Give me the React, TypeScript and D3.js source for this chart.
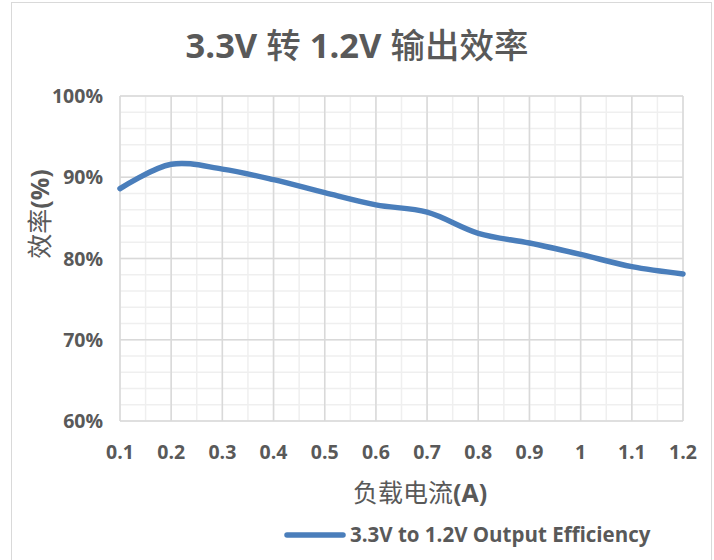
import { useEffect, useRef } from 'react';
import * as d3 from 'd3';

// load current (A) and measured efficiency (%)
const loads = [0.1, 0.2, 0.3, 0.4, 0.5, 0.6, 0.7, 0.8, 0.9, 1.0, 1.1, 1.2];
const efficiency = [88.6, 91.6, 91.0, 89.7, 88.1, 86.6, 85.7, 83.1, 81.9, 80.5, 79.0, 78.1];
const xTickLabels = ['0.1', '0.2', '0.3', '0.4', '0.5', '0.6', '0.7', '0.8', '0.9', '1', '1.1', '1.2'];
const yTicks = [60, 70, 80, 90, 100];
const yTickLabels = ['60%', '70%', '80%', '90%', '100%'];
const seriesName = '3.3V to 1.2V Output Efficiency';

const latin = '"Open Sans", "Noto Sans", sans-serif';
const cjk = '"Noto Sans CJK SC", "Open Sans", sans-serif';
const textColor = '#595959';
const lineColor = '#4a7ebb';

const App = () => {
  const svgRef = useRef<SVGSVGElement | null>(null);

  useEffect(() => {
    const svg = d3.select(svgRef.current);
    svg.selectAll('*').remove();
    const width = 714;
    const height = 560;

    const plot = { left: 120, right: 683, top: 96, bottom: 421 };

    const x = d3.scaleLinear().domain([0.1, 1.2]).range([plot.left, plot.right]);
    const y = d3.scaleLinear().domain([60, 100]).range([plot.bottom, plot.top]);

    svg.attr('width', width).attr('height', height);

    // chart frame
    svg.append('rect')
      .attr('x', 11.5).attr('y', 2.5)
      .attr('width', 700).attr('height', 570)
      .attr('fill', '#fff')
      .attr('stroke', '#d9d9d9');

    // minor grid
    const minorX = d3.range(0, 23).map(i => 0.1 + i * 0.05);
    const minorY = d3.range(60, 101, 2);
    const grid = svg.append('g');
    grid.selectAll('.minor-x').data(minorX).enter().append('line')
      .attr('x1', d => x(d)).attr('x2', d => x(d))
      .attr('y1', plot.top).attr('y2', plot.bottom)
      .attr('stroke', '#efefef').attr('stroke-width', 1.5);
    grid.selectAll('.minor-y').data(minorY).enter().append('line')
      .attr('x1', plot.left).attr('x2', plot.right)
      .attr('y1', d => y(d)).attr('y2', d => y(d))
      .attr('stroke', '#efefef').attr('stroke-width', 1.5);

    // major grid
    grid.selectAll('.major-x').data(loads).enter().append('line')
      .attr('x1', d => x(d)).attr('x2', d => x(d))
      .attr('y1', plot.top).attr('y2', plot.bottom)
      .attr('stroke', '#d9d9d9').attr('stroke-width', 1.5);
    grid.selectAll('.major-y').data(yTicks).enter().append('line')
      .attr('x1', plot.left).attr('x2', plot.right)
      .attr('y1', d => y(d)).attr('y2', d => y(d))
      .attr('stroke', '#d9d9d9').attr('stroke-width', 1.5);

    // tick labels
    svg.append('g').selectAll('text').data(yTicks).enter().append('text')
      .attr('x', plot.left - 17)
      .attr('y', d => y(d))
      .attr('dy', '0.36em')
      .attr('text-anchor', 'end')
      .attr('font-family', latin).attr('font-weight', 700).attr('font-size', 19.5)
      .attr('fill', textColor)
      .text((_, i) => yTickLabels[i]);

    svg.append('g').selectAll('text').data(loads).enter().append('text')
      .attr('x', d => x(d))
      .attr('y', plot.bottom + 31)
      .attr('dy', '0.36em')
      .attr('text-anchor', 'middle')
      .attr('font-family', latin).attr('font-weight', 700).attr('font-size', 19.5)
      .attr('fill', textColor)
      .text((_, i) => xTickLabels[i]);

    // line
    const line = d3.line<number>()
      .x((_, i) => x(loads[i]))
      .y(d => y(d))
      .curve(d3.curveCatmullRom.alpha(0.5));

    svg.append('path')
      .datum(efficiency)
      .attr('d', line)
      .attr('fill', 'none')
      .attr('stroke', lineColor)
      .attr('stroke-width', 5.5)
      .attr('stroke-linecap', 'round');

    // title
    const title = svg.append('text')
      .attr('x', 357).attr('y', 58)
      .attr('text-anchor', 'middle')
      .attr('font-size', 34.5)
      .attr('fill', textColor);
    title.append('tspan').attr('font-family', latin).attr('font-weight', 700).text('3.3V ');
    title.append('tspan').attr('font-family', cjk).attr('font-weight', 500).text('转');
    title.append('tspan').attr('font-family', latin).attr('font-weight', 700).text(' 1.2V ');
    title.append('tspan').attr('font-family', cjk).attr('font-weight', 500).text('输出效率');

    // x axis title
    const xTitle = svg.append('text')
      .attr('x', 420).attr('y', 502)
      .attr('text-anchor', 'middle')
      .attr('font-size', 25)
      .attr('fill', textColor);
    xTitle.append('tspan').attr('font-family', cjk).attr('font-weight', 400).text('负载电流');
    xTitle.append('tspan').attr('font-family', latin).attr('font-weight', 700).text('(A)');

    // y axis title
    const yTitle = svg.append('text')
      .attr('transform', 'translate(49,214) rotate(-90)')
      .attr('text-anchor', 'middle')
      .attr('font-size', 25)
      .attr('fill', textColor);
    yTitle.append('tspan').attr('font-family', cjk).attr('font-weight', 400).text('效率');
    yTitle.append('tspan').attr('font-family', latin).attr('font-weight', 700).text('(%)');

    // legend
    const legend = svg.append('g').attr('transform', 'translate(287,535)');
    legend.append('line')
      .attr('x1', 0).attr('x2', 56)
      .attr('stroke', lineColor).attr('stroke-width', 5.5)
      .attr('stroke-linecap', 'round');
    legend.append('text')
      .attr('x', 63).attr('dy', '0.36em')
      .attr('font-family', latin).attr('font-weight', 700).attr('font-size', 20.5)
      .attr('fill', textColor)
      .text(seriesName);
  }, []);

  return <svg ref={svgRef} style={{ position: 'absolute', left: 0, top: 0 }}></svg>;
};

export default App;
